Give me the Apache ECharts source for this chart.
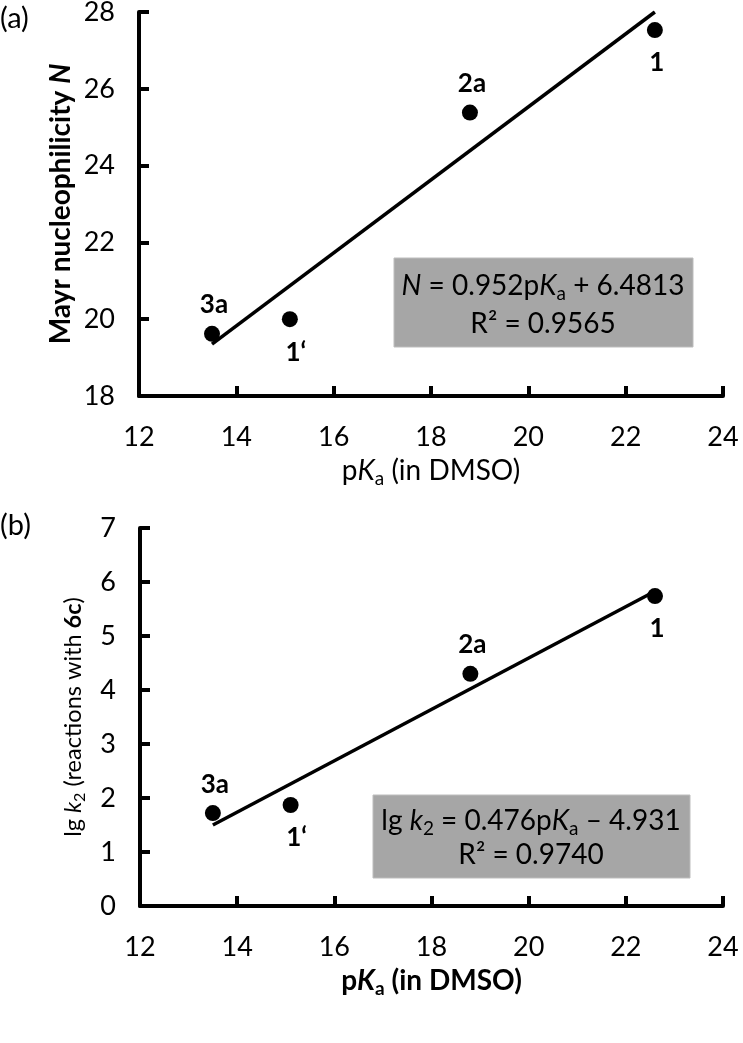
<!DOCTYPE html>
<html>
<head>
<meta charset="utf-8">
<script src="https://cdn.jsdelivr.net/npm/echarts@6/dist/echarts.min.js"></script>
<style>
  html, body { margin: 0; padding: 0; background: #fff; }
  #chart { width: 743px; height: 1043px; }
</style>
</head>
<body>
<div id="chart"></div>
<script>
// compounds and pKa (DMSO)
const compounds = ['3a', "1\u2018", '2a', '1']
const pKa = [13.5, 15.1, 18.8, 22.6]
// (a) Mayr nucleophilicity N
const mayrN = [19.62, 20.0, 25.38, 27.53]
// (b) lg k2 with 6c
const lgK2 = [1.72, 1.87, 4.30, 5.74]
// fitted lines, end points
const fitA = [[13.5, 19.35], [22.6, 28.0]]
const fitB = [[13.5, 1.50], [22.6, 5.83]]
// label placement per point: top / bottom
const labelPos = ['top', 'bottom', 'top', 'bottom']
const xTicks = [12, 24, 2]
const yTicksA = [18, 28, 2]
const yTicksB = [0, 7, 1]

const FONT = 'Lato'
const black = '#000'

const chart = echarts.init(document.getElementById('chart'))

// one rich-text style helper so nothing is inherited by accident
function st(size, opts) {
  return Object.assign({
    fontFamily: FONT, fontSize: size, fontWeight: 'normal', fontStyle: 'normal', color: black
  }, opts || {})
}

function points(ys) {
  return pKa.map((x, i) => ({
    value: [x, ys[i]],
    name: compounds[i],
    label: {
      show: true,
      position: labelPos[i],
      distance: labelPos[i] === 'top' ? 8 : 12,
      offset: i === 1 ? [6, 0] : [2, 0],
      formatter: '{b}',
      fontFamily: FONT,
      fontWeight: 'bold',
      fontSize: 26,
      color: black
    }
  }))
}

function xAxis(gridIndex, nameGap, bold) {
  const w = bold ? 'bold' : 'normal'
  return {
    type: 'value',
    gridIndex,
    min: xTicks[0],
    max: xTicks[1],
    interval: xTicks[2],
    name: '{n|p}{i|K}{s|a}{n| (in DMSO)}',
    nameLocation: 'middle',
    nameGap,
    nameMoveOverlap: false,
    nameTextStyle: {
      fontFamily: FONT,
      color: black,
      rich: {
        n: st(28, { fontWeight: w }),
        i: st(28, { fontWeight: w, fontStyle: 'italic' }),
        s: st(19, { fontWeight: w, padding: [15, 0, 0, 0] })
      }
    },
    axisLine: { show: true, onZero: false, lineStyle: { color: black, width: 4 } },
    axisTick: { show: true, inside: true, length: 10, lineStyle: { color: black, width: 4 } },
    axisLabel: { fontFamily: FONT, fontSize: 27, color: black, margin: 28 },
    splitLine: { show: false }
  }
}

function yAxis(gridIndex, ticks, name, rich, nameGap) {
  return {
    type: 'value',
    gridIndex,
    min: ticks[0],
    max: ticks[1],
    interval: ticks[2],
    name,
    nameLocation: 'middle',
    nameGap,
    nameMoveOverlap: false,
    nameTextStyle: { fontFamily: FONT, fontWeight: 'normal', fontStyle: 'normal', color: black, rich },
    axisLine: { show: true, onZero: false, lineStyle: { color: black, width: 4 } },
    axisTick: { show: true, inside: true, length: 10, lineStyle: { color: black, width: 4 } },
    axisLabel: { fontFamily: FONT, fontSize: 27, color: black, margin: 24 },
    splitLine: { show: false }
  }
}

function eqStyles(lh) {
  return {
    n: st(28, { lineHeight: lh }),
    i: st(28, { fontStyle: 'italic', lineHeight: lh }),
    s: st(19, { padding: [15, 0, 0, 0], lineHeight: lh })
  }
}

chart.setOption({
  animation: false,
  backgroundColor: '#fff',
  grid: [
    { left: 139, top: 12, width: 584, height: 384, outerBoundsMode: 'none', containLabel: false },
    { left: 140, top: 528, width: 583, height: 378, outerBoundsMode: 'none', containLabel: false }
  ],
  xAxis: [xAxis(0, 58, false), xAxis(1, 58, true)],
  yAxis: [
    yAxis(0, yTicksA, '{b|Mayr nucleophilicity }{bi|N}', {
      b: st(28, { fontWeight: 'bold' }),
      bi: st(28, { fontWeight: 'bold', fontStyle: 'italic' })
    }, 64),
    yAxis(1, yTicksB, '{n|lg }{i|k}{s|2}{n| (reactions with }{b|6c}{n|)}', {
      n: st(23.5),
      i: st(23.5, { fontStyle: 'italic' }),
      s: st(16, { padding: [13, 0, 0, 0] }),
      b: st(23.5, { fontWeight: 'bold' })
    }, 52)
  ],
  series: [
    {
      type: 'line', xAxisIndex: 0, yAxisIndex: 0, data: fitA,
      symbol: 'none', lineStyle: { color: black, width: 3.5 }, z: 2, silent: true
    },
    {
      type: 'scatter', xAxisIndex: 0, yAxisIndex: 0, data: points(mayrN),
      symbolSize: 16, itemStyle: { color: black, opacity: 1 }, z: 3
    },
    {
      type: 'line', xAxisIndex: 1, yAxisIndex: 1, data: fitB,
      symbol: 'none', lineStyle: { color: black, width: 3.5 }, z: 2, silent: true
    },
    {
      type: 'scatter', xAxisIndex: 1, yAxisIndex: 1, data: points(lgK2),
      symbolSize: 16, itemStyle: { color: black, opacity: 1 }, z: 3
    }
  ],
  graphic: [
    { type: 'text', left: 0, top: 4, style: { text: '(a)', font: '29px Lato', fill: black } },
    { type: 'text', left: 0, top: 511, style: { text: '(b)', font: '29px Lato', fill: black } },
    {
      type: 'rect', shape: { x: 394, y: 258, width: 299, height: 89 },
      style: { fill: '#a6a6a6', stroke: '#bdbdbd', lineWidth: 1 }, z: 10
    },
    {
      type: 'text', z: 11,
      style: {
        x: 543, y: 305, align: 'center', verticalAlign: 'middle',
        text: '{i|N}{n| = 0.952p}{i|K}{s|a}{n| + 6.4813}\n{n|R² = 0.9565}',
        rich: eqStyles(38)
      }
    },
    {
      type: 'rect', shape: { x: 373, y: 795, width: 317, height: 83 },
      style: { fill: '#a6a6a6', stroke: '#bdbdbd', lineWidth: 1 }, z: 10
    },
    {
      type: 'text', z: 11,
      style: {
        x: 531, y: 838, align: 'center', verticalAlign: 'middle',
        text: '{n|lg }{i|k}{s|2}{n| = 0.476p}{i|K}{s|a}{n| \u2013 4.931}\n{n|R² = 0.9740}',
        rich: eqStyles(34)
      }
    }
  ]
})
</script>
</body>
</html>
